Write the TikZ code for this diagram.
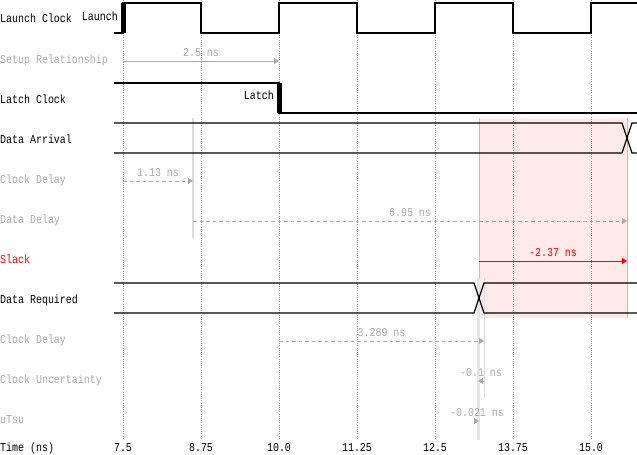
\documentclass[tikz,border=0pt]{standalone}
\usepackage{fontspec}
\usepackage{tikz}
\usetikzlibrary{arrows.meta}
\newfontfamily\wavefont[FakeStretch=0.83]{Liberation Mono}
\definecolor{GridCyan}{RGB}{0,215,215}
\definecolor{MeasGray}{RGB}{170,170,170}
\definecolor{GuideGray}{RGB}{220,220,220}
\definecolor{SlackFill}{RGB}{255,234,234}
\definecolor{SlackEdge}{RGB}{240,172,172}
\definecolor{SlackRed}{RGB}{255,0,0}

\begin{document}
\begin{tikzpicture}[x=1pt, y=-1pt,
    every node/.style={font=\wavefont\fontsize{12}{14}\selectfont, inner sep=0pt},
    siglabel/.style={anchor=base west},
    sigdim/.style={siglabel, text=MeasGray},
    wave/.style={draw=black, line width=1.2pt, line join=miter},
    edgebar/.style={fill=black},
    gridline/.style={draw=GridCyan, line width=0.9pt, dash pattern=on 1pt off 1.2pt},
    guide/.style={draw=GuideGray, line width=1pt},
    meas/.style={draw=MeasGray, line width=1pt, -{Triangle[length=5pt, width=6pt]}},
    measdash/.style={meas, dash pattern=on 3.5pt off 3pt},
    measlbl/.style={anchor=base, yshift=5pt, text=MeasGray},
    slackarr/.style={draw=SlackRed, line width=1pt, -{Triangle[length=5pt, width=6pt]}},
    ticklabel/.style={anchor=base}
]
\useasboundingbox (0,0) rectangle (637,455);

% Slack window
\fill[SlackFill] (479,118) rectangle (627,318);
\draw[draw=SlackEdge, line width=1pt] (479,118) -- (479,318);
\draw[draw=SlackEdge, line width=1pt] (627,118) -- (627,318);

% Grid
\foreach \gx in {123,201,...,591}
    \draw[gridline] (\gx,0) -- (\gx,440);

% Guides
\draw[guide, line width=1.5pt] (193,118) -- (193,238);
\draw[guide, line width=3pt, draw=GuideGray!70] (478,278) -- (478,440);
\draw[guide] (484,278) -- (484,398);

% Signal names
\node[siglabel] (lbl-launch) at (0,23) {Launch Clock};
\node[sigdim] (lbl-setup) at (0,63) {Setup Relationship};
\node[siglabel] (lbl-latch) at (0,103) {Latch Clock};
\node[siglabel] (lbl-arrival) at (0,143) {Data Arrival};
\node[sigdim] (lbl-clkdly1) at (0,183) {Clock Delay};
\node[sigdim] (lbl-datadly) at (0,223) {Data Delay};
\node[siglabel, text=SlackRed] (lbl-slack) at (0,263) {Slack};
\node[siglabel] (lbl-required) at (0,303) {Data Required};
\node[sigdim] (lbl-clkdly2) at (0,343) {Clock Delay};
\node[sigdim] (lbl-uncert) at (0,383) {Clock Uncertainty};
\node[sigdim] (lbl-tsu) at (0,423) {uTsu};
\node[siglabel] (lbl-time) at (0,451) {Time (ns)};

% Launch clock
\draw[wave] (114,33) -- (123,33) -- (123,3) -- (201,3) -- (201,33) -- (279,33)
    -- (279,3) -- (357,3) -- (357,33) -- (435,33) -- (435,3) -- (513,3)
    -- (513,33) -- (591,33) -- (591,3) -- (637,3);
\fill[edgebar] (121,3) rectangle (126,33);
\node[anchor=base east] (launch-edge) at (118,20) {Launch};

% Latch clock
\draw[wave] (114,83) -- (279,83) -- (279,113) -- (637,113);
\fill[edgebar] (277,83) rectangle (282,113);
\node[anchor=base east] (latch-edge) at (274,99) {Latch};

% Data arrival
\draw[wave] (114,123) -- (622,123) -- (632,153) -- (637,153);
\draw[wave] (114,153) -- (622,153) -- (632,123) -- (637,123);

% Data required
\draw[wave] (114,283) -- (474,283) -- (484,313) -- (637,313);
\draw[wave] (114,313) -- (474,313) -- (484,283) -- (637,283);

% Measurements
\coordinate (su-from) at (123,61);
\coordinate (su-to) at (279,61);
\coordinate (cd1-from) at (123,181);
\coordinate (cd1-to) at (193,181);
\coordinate (dd-from) at (193,221);
\coordinate (dd-to) at (627,221);
\coordinate (sl-from) at (479,261);
\coordinate (sl-to) at (627,261);
\coordinate (cd2-from) at (279,341);
\coordinate (cd2-to) at (484,341);
\coordinate (cu-from) at (484,381);
\coordinate (cu-to) at (478,381);
\coordinate (ts-from) at (475,421);
\coordinate (ts-to) at (479,421);

\draw[meas] (su-from) -- node[measlbl] {2.5 ns} (su-to);
\draw[measdash] (cd1-from) -- node[measlbl] {1.13 ns} (cd1-to);
\draw[measdash] (dd-from) -- node[measlbl] {6.95 ns} (dd-to);
\draw[slackarr] (sl-from) -- node[measlbl, text=SlackRed] {-2.37 ns} (sl-to);
\draw[measdash] (cd2-from) -- node[measlbl] {3.289 ns} (cd2-to);
\draw[meas] (cu-from) -- node[measlbl] {-0.1 ns} (cu-to);
\draw[meas] (ts-from) -- node[measlbl] {-0.021 ns} (ts-to);

% Time axis
\foreach \gx/\gt [count=\i] in {123/7.5, 201/8.75, 279/10.0, 357/11.25, 435/12.5, 513/13.75, 591/15.0}
    \node[ticklabel] (tick\i) at (\gx,451) {\gt};

\end{tikzpicture}
\end{document}
